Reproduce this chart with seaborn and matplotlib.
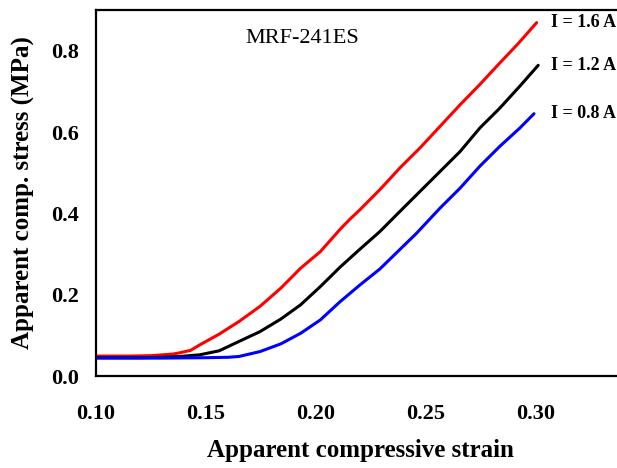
import matplotlib
matplotlib.use("Agg")
import matplotlib.pyplot as plt
import seaborn as sns
import pandas as pd

# ---- data ----
strain_16 = [0.100, 0.115, 0.125, 0.130, 0.135, 0.138, 0.143, 0.147, 0.156, 0.165, 0.1745,
             0.184, 0.193, 0.202, 0.211, 0.2155, 0.220, 0.229, 0.2382, 0.2473, 0.2564,
             0.2655, 0.2745, 0.2836, 0.292, 0.3003]
stress_16 = [0.049, 0.049, 0.050, 0.052, 0.054, 0.057, 0.063, 0.076, 0.103, 0.134, 0.171,
             0.216, 0.265, 0.306, 0.361, 0.386, 0.409, 0.458, 0.512, 0.561, 0.614,
             0.667, 0.717, 0.770, 0.818, 0.869]

strain_12 = [0.100, 0.120, 0.130, 0.138, 0.147, 0.156, 0.165, 0.1745, 0.184, 0.193, 0.202,
             0.211, 0.220, 0.229, 0.2382, 0.2473, 0.2564, 0.2655, 0.2745, 0.2836, 0.2927,
             0.301]
stress_12 = [0.045, 0.045, 0.046, 0.048, 0.052, 0.062, 0.085, 0.109, 0.140, 0.175, 0.220,
             0.268, 0.312, 0.355, 0.405, 0.454, 0.503, 0.552, 0.610, 0.659, 0.713,
             0.764]

strain_08 = [0.100, 0.130, 0.150, 0.160, 0.165, 0.1745, 0.184, 0.193, 0.202, 0.211, 0.220,
             0.229, 0.2457, 0.2564, 0.2655, 0.2745, 0.2836, 0.2927, 0.2991]
stress_08 = [0.044, 0.044, 0.045, 0.046, 0.048, 0.060, 0.079, 0.105, 0.138, 0.183, 0.224,
             0.263, 0.351, 0.413, 0.462, 0.516, 0.565, 0.610, 0.645]

series_labels = ["I = 1.6 A", "I = 1.2 A", "I = 0.8 A"]
series_colors = ["#ff0000", "#000000", "#0000ff"]

xticks = [0.10, 0.15, 0.20, 0.25, 0.30]
yticks = [0.0, 0.2, 0.4, 0.6, 0.8]

frames = []
for lab, xs, ys in zip(series_labels,
                       [strain_16, strain_12, strain_08],
                       [stress_16, stress_12, stress_08]):
    frames.append(pd.DataFrame({"strain": xs, "stress": ys, "current": lab}))
df = pd.concat(frames, ignore_index=True)

sns.set_theme(style="white")
plt.rcParams["font.family"] = ["Liberation Serif", "DejaVu Serif"]
plt.rcParams["text.color"] = "black"
plt.rcParams["axes.labelcolor"] = "black"
plt.rcParams["xtick.color"] = "black"
plt.rcParams["ytick.color"] = "black"

fig = plt.figure(figsize=(6.17, 4.68), dpi=100)
ax = fig.add_axes([96 / 617, 92 / 468, 528 / 617, 366 / 468])

sns.lineplot(data=df, x="strain", y="stress", hue="current",
             palette=dict(zip(series_labels, series_colors)),
             hue_order=series_labels, linewidth=2.2, legend=False,
             sort=False, estimator=None, ax=ax)

ax.set_xlim(0.10, 0.34)
ax.set_ylim(0.0, 0.90)
ax.set_xticks(xticks)
ax.set_xticklabels([f"{t:.2f}" for t in xticks])
ax.set_yticks(yticks)
ax.set_yticklabels([f"{t:.1f}" for t in yticks])

for s in ["left", "bottom", "top", "right"]:
    ax.spines[s].set_linewidth(1.6)
    ax.spines[s].set_color("black")

ax.tick_params(axis="x", direction="in", length=6, width=1.5, pad=20,
               labelsize=16, colors="black")
ax.tick_params(axis="y", direction="in", length=6, width=1.5, pad=12,
               labelsize=16, colors="black")
for t in ax.get_xticklabels() + ax.get_yticklabels():
    t.set_fontweight("bold")
    t.set_color("black")

ax.set_xlabel("Apparent compressive strain", fontsize=18, fontweight="bold", color="black")
ax.set_ylabel("Apparent comp. stress (MPa)", fontsize=18, fontweight="bold", color="black")
ax.xaxis.label.set_va("center")
ax.yaxis.label.set_va("center")
ax.xaxis.set_label_coords(0.5, (376 - 451) / 366)
ax.yaxis.set_label_coords((23 - 96) / 528, 0.5)

ax.text(0.168, 0.830, "MRF-241ES", fontsize=16, va="center", ha="left", color="black")

for lab, ys in zip(series_labels, [stress_16, stress_12, stress_08]):
    ax.text(0.3068, ys[-1], lab, fontsize=13, fontweight="bold", color="black",
            va="center", ha="left", clip_on=False)

fig.savefig("out.png", dpi=100)
